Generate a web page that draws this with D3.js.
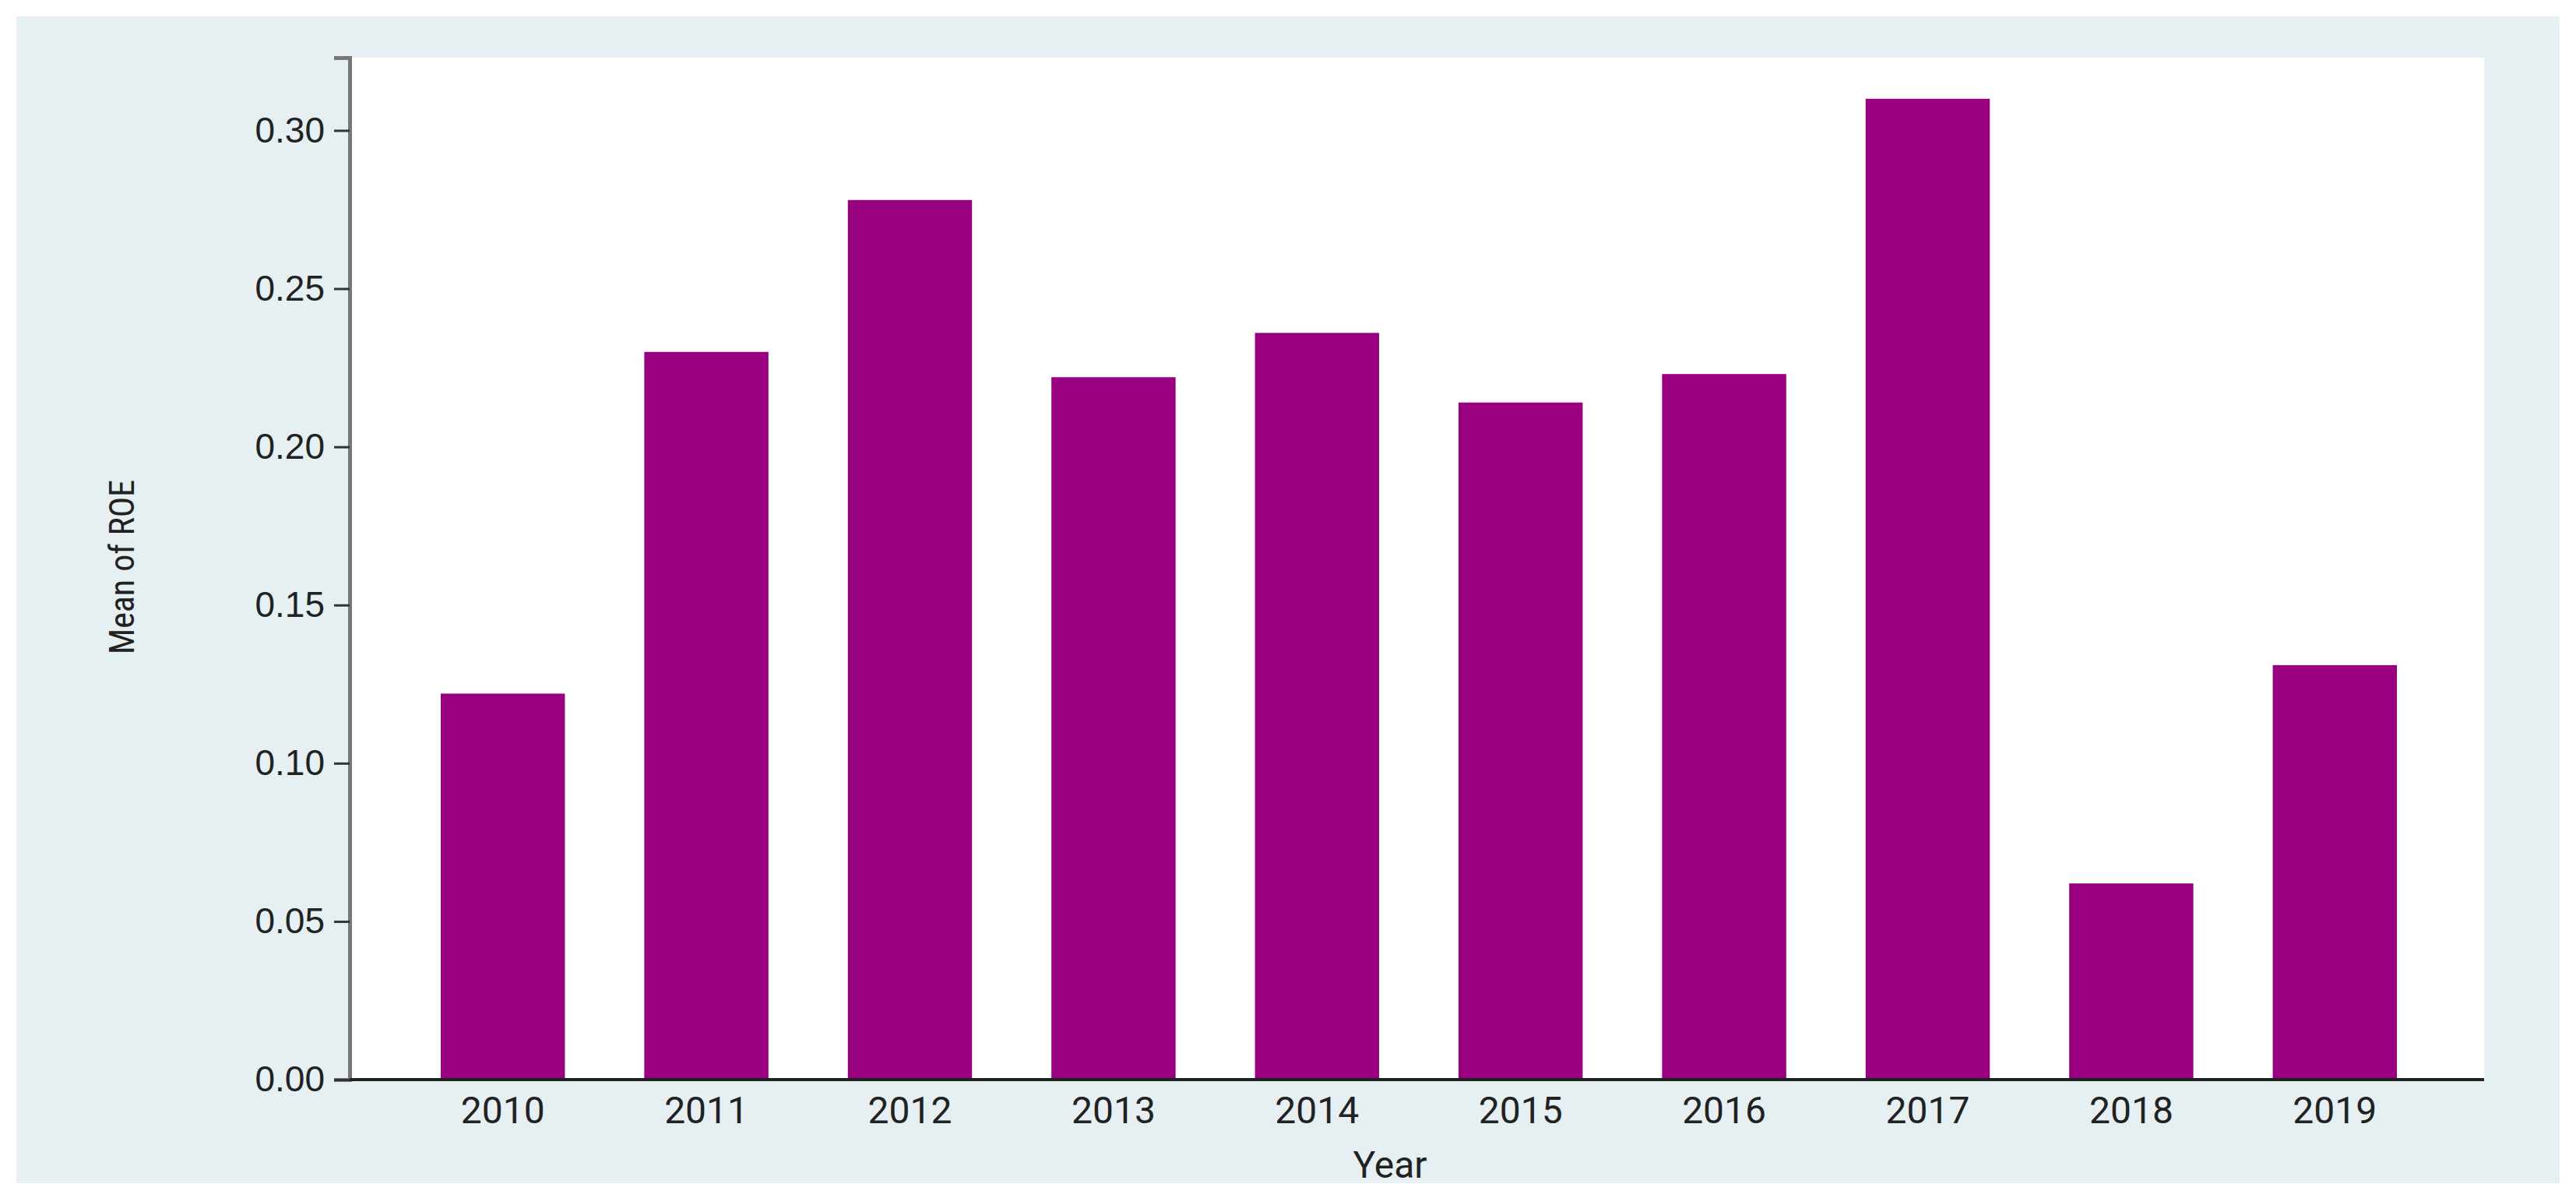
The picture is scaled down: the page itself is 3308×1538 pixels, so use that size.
<!DOCTYPE html>
<html><head><meta charset="utf-8">
<script src="https://cdn.jsdelivr.net/npm/d3@7"></script>
<style>body{margin:0;background:#fff}</style></head>
<body><svg id="c" width="3308" height="1538"></svg>
<script>
const years = ["2010","2011","2012","2013","2014","2015","2016","2017","2018","2019"];
const roe = [0.122,0.230,0.278,0.222,0.236,0.214,0.223,0.310,0.062,0.131];
const yTicks = [0,0.05,0.10,0.15,0.20,0.25,0.30];

const svg = d3.select("#c");
const L=449,R=3190,T=74,B=1386;
svg.append("rect").attr("x",21).attr("y",21).attr("width",3266).attr("height",1498).attr("fill","#e6f0f2");
svg.append("rect").attr("x",L).attr("y",T).attr("width",R-L).attr("height",B-T).attr("fill","#fff");

const x = d3.scaleBand().domain(years).range([515,3129]).paddingInner(0.39).paddingOuter(0.195);
const y = d3.scaleLinear().domain([0,0.323]).range([B,T]);

svg.selectAll(".bar").data(years).enter().append("rect")
  .attr("x",d=>x(d)).attr("width",x.bandwidth())
  .attr("y",(d,i)=>y(roe[i])).attr("height",(d,i)=>B-y(roe[i]))
  .attr("fill","#990080");

const ya = svg.append("g").attr("transform",`translate(${L},0)`)
  .call(d3.axisLeft(y).tickValues(yTicks).tickFormat(d3.format(".2f")).tickSize(20).tickPadding(12));
ya.select(".domain").attr("stroke","#777").attr("stroke-width",5);
ya.selectAll(".tick line").attr("stroke","#333").attr("stroke-width",3);
ya.selectAll("text").attr("font-family","Liberation Sans, Arial").attr("font-size",46).attr("fill","#222");

const xa = svg.append("g").attr("transform",`translate(0,${B})`)
  .call(d3.axisBottom(x).tickSize(0).tickPadding(22));
xa.select(".domain").attr("d",`M${L},0H${R}`).attr("stroke","#222").attr("stroke-width",4);
xa.selectAll("text").attr("font-family","Roboto").attr("font-size",48).attr("fill","#222");

svg.append("text").attr("x",1785).attr("y",1512).attr("text-anchor","middle")
  .attr("font-family","Roboto").attr("font-size",48).attr("fill","#222").text("Year");
svg.append("text").attr("transform","translate(172,728) rotate(-90)").attr("text-anchor","middle")
  .attr("font-family","Roboto Condensed, Roboto").attr("font-stretch","condensed").attr("font-size",44).attr("fill","#222").text("Mean of ROE");
</script></body></html>
